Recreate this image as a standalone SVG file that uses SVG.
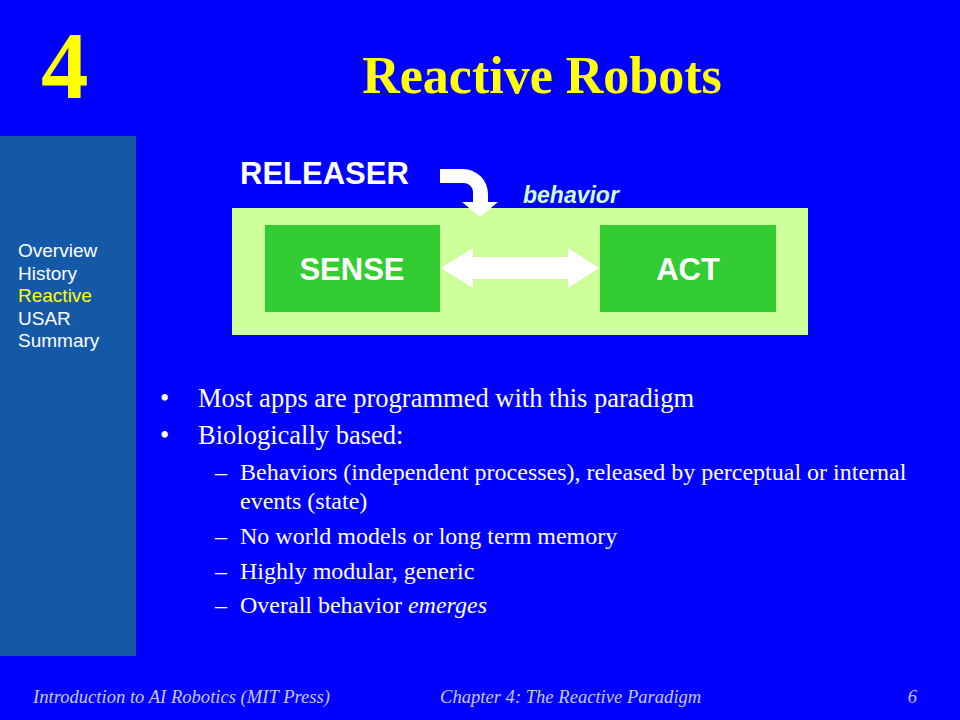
<svg xmlns="http://www.w3.org/2000/svg" width="960" height="720" viewBox="0 0 960 720">
<style>
.serif{font-family:"Liberation Serif","Times New Roman",serif}
.sans{font-family:"Liberation Sans",Arial,sans-serif}
.nav{font-family:"Liberation Sans",Arial,sans-serif;font-size:19px;fill:#ffffff}
.b1{font-family:"Liberation Serif","Times New Roman",serif;font-size:26.5px;fill:#ffffff}
.b2{font-family:"Liberation Serif","Times New Roman",serif;font-size:24px;fill:#ffffff}
.foot{font-family:"Liberation Serif","Times New Roman",serif;font-size:18.6px;font-style:italic;fill:#c8c8ff}
.box{fill:#33cc33}
.lbl{font-family:"Liberation Sans",Arial,sans-serif;font-weight:bold;font-size:31px;fill:#ffffff}
</style>
<rect x="0" y="0" width="960" height="720" fill="#0000ff"/>
<rect x="0" y="136" width="136" height="520" fill="#1458a8"/>
<text x="41" y="98" class="serif" font-size="95" font-weight="bold" fill="#ffff00">4</text>
<text x="542" y="93" class="serif" font-size="52" font-weight="bold" fill="#ffff00" text-anchor="middle">Reactive Robots</text>
<g id="nav">
<text x="18" y="257" class="nav">Overview</text>
<text x="18" y="280" class="nav">History</text>
<text x="18" y="302" class="nav" style="fill:#ffff00">Reactive</text>
<text x="18" y="325" class="nav">USAR</text>
<text x="18" y="347" class="nav">Summary</text>
</g>
<g id="behavior">
<rect x="232" y="208" width="576" height="127" fill="#ccff99"/>
<text x="523" y="203" class="sans" font-size="23" font-weight="bold" font-style="italic" fill="#ccffcc">behavior</text>
</g>
<g id="releaser">
<text x="240" y="184" class="lbl">RELEASER</text>
</g>
<g id="sense">
<rect x="265" y="225" width="175" height="87" class="box"/>
<text x="352" y="280" class="lbl" text-anchor="middle">SENSE</text>
</g>
<g id="act">
<rect x="600" y="225" width="176" height="87" class="box"/>
<text x="688" y="280" class="lbl" text-anchor="middle">ACT</text>
</g>
<g id="connectors" fill="#ffffff">
<path d="M440,169 H463 A25,25 0 0 1 488,194 V202 H498 L480,217 L462,202 H473 V192 A9,9 0 0 0 464,183 H440 Z"/>
<path d="M441,268 L473,248 V257 H568 V248 L599,268 L568,288 V279 H473 V288 Z"/>
</g>
<g id="bullets">
<text x="160" y="407" class="b1">•</text>
<text x="198" y="407" class="b1">Most apps are programmed with this paradigm</text>
<text x="160" y="444" class="b1">•</text>
<text x="198" y="444" class="b1">Biologically based:</text>
<text x="215" y="480" class="b2">–</text>
<text x="240" y="480" class="b2">Behaviors (independent processes), released by perceptual or internal</text>
<text x="240" y="509" class="b2">events (state)</text>
<text x="215" y="544" class="b2">–</text>
<text x="240" y="544" class="b2">No world models or long term memory</text>
<text x="215" y="579" class="b2">–</text>
<text x="240" y="579" class="b2">Highly modular, generic</text>
<text x="215" y="613" class="b2">–</text>
<text x="240" y="613" class="b2">Overall behavior <tspan font-style="italic">emerges</tspan></text>
</g>
<g id="footer">
<text x="33" y="703" class="foot">Introduction to AI Robotics (MIT Press)</text>
<text x="440" y="703" class="foot">Chapter 4: The Reactive Paradigm</text>
<text x="917" y="703" class="foot" text-anchor="end">6</text>
</g>
</svg>
